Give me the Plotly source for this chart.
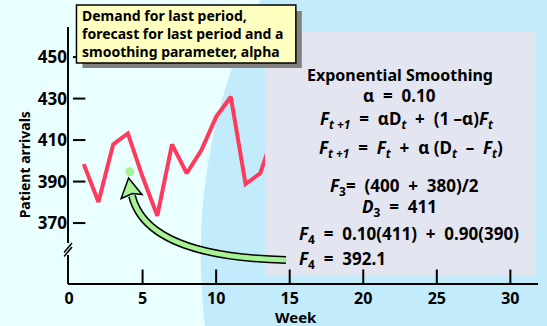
import plotly.graph_objects as go

# ---- data ----
weeks = [1, 2, 3, 4, 5, 6, 7, 8, 9, 10, 11, 12, 13, 14]
arrivals = [398.4, 380.1, 407.9, 413.2, 392.3, 373.5, 407.9, 394.0, 405.2, 421.2, 430.9, 388.8, 394.0, 415.0]
forecast_week = [4.13]
forecast_value = [394.7]
x_ticks = [0, 5, 10, 15, 20, 25, 30]
y_ticks = [370, 390, 410, 430, 450]

W, H = 547, 326
def px(x):
    return x / W
def py(y):
    return 1 - y / H

FONT = "Noto Sans"
BG = "rgb(234,255,255)"
BLUE = "rgb(194,236,252)"
GRAY = "rgb(227,230,241)"
RED = "rgb(255,58,92)"
GREEN = "rgb(168,242,150)"
NB = "\u00a0"

fig = go.Figure()
fig.add_trace(go.Scatter(x=weeks, y=arrivals, mode="lines",
                         line=dict(color=RED, width=4), hoverinfo="skip"))
fig.add_trace(go.Scatter(x=forecast_week, y=forecast_value, mode="markers",
                         marker=dict(color=GREEN, size=9), hoverinfo="skip"))

shapes = []
# big light-blue circle in the background
R = 568
cx, cy = 198 + R, 255
shapes.append(dict(type="circle", xref="paper", yref="paper",
                   x0=px(cx - R), x1=px(cx + R), y0=py(cy + R), y1=py(cy - R),
                   fillcolor=BLUE, line=dict(width=0), layer="below"))
# gray formula panel
shapes.append(dict(type="rect", xref="paper", yref="paper",
                   x0=px(263), x1=px(536), y0=py(275), y1=py(32),
                   fillcolor=GRAY, line=dict(width=0), layer="above"))
# y axis line with break
for (a, b) in [((64.5, 27), (64.5, 243)), ((64.5, 255), (64.5, 284))]:
    shapes.append(dict(type="line", xref="paper", yref="paper",
                       x0=px(a[0]), y0=py(a[1]), x1=px(b[0]), y1=py(b[1]),
                       line=dict(color="black", width=2), layer="above"))
for (a, b) in [((60.5, 252.5), (68.5, 243)), ((60.5, 256.5), (68.5, 247))]:
    shapes.append(dict(type="line", xref="paper", yref="paper",
                       x0=px(a[0]), y0=py(a[1]), x1=px(b[0]), y1=py(b[1]),
                       line=dict(color="black", width=1.5), layer="above"))
# y tick dashes
for v in y_ticks:
    shapes.append(dict(type="line", xref="paper", yref="y",
                       x0=px(69.5), x1=px(82), y0=v, y1=v,
                       line=dict(color="black", width=2), layer="above"))
# x ticks (upwards)
for v in x_ticks[1:]:
    shapes.append(dict(type="line", xref="x", yref="paper",
                       x0=v, x1=v, y0=py(283), y1=py(269.5),
                       line=dict(color="black", width=2), layer="above"))

# curved green arrow
def P(x, y):
    return f"{px(x):.5f},{py(y):.5f}"
curve = f"M {P(284,260)} C {P(200,258)} {P(140,240)} {P(129,196)}"
shapes.append(dict(type="path", xref="paper", yref="paper", path=curve,
                   line=dict(color="black", width=8), layer="above"))
shapes.append(dict(type="path", xref="paper", yref="paper", path=curve,
                   line=dict(color=GREEN, width=5), layer="above"))
head = f"M {P(125.5,178)} L {P(139,194.5)} L {P(129.5,193.5)} L {P(118,198.5)} Z"
shapes.append(dict(type="path", xref="paper", yref="paper", path=head,
                   fillcolor=GREEN, line=dict(color="black", width=1.5), layer="above"))

# yellow note box with shadow
shapes.append(dict(type="rect", xref="paper", yref="paper",
                   x0=px(79), x1=px(300), y0=py(68), y1=py(11),
                   fillcolor="rgb(128,128,128)", line=dict(width=0), layer="above"))
shapes.append(dict(type="rect", xref="paper", yref="paper",
                   x0=px(73), x1=px(294), y0=py(63), y1=py(5),
                   fillcolor="rgb(255,255,192)", line=dict(color="black", width=1.5),
                   layer="above"))

ann = []
def text(t, x, y, size, anchor="center", angle=0, align="center"):
    ann.append(dict(text=t, x=px(x), y=py(y), xref="paper", yref="paper",
                    xanchor=anchor, yanchor="middle", showarrow=False, textangle=angle,
                    align=align,
                    font=dict(family=FONT, size=size, color="black", weight="bold")))

text("Demand for last period,<br>forecast for last period and a<br>smoothing parameter, alpha",
     77, 34, 14, "left", align="left")

S = NB * 2
text("Exponential Smoothing", 399, 75, 16)
text(f"α{S}={S}0.10", 398, 95, 17)
text(f"<i>F</i><sub><i>t +1</i></sub>{S}={S}αD<sub><i>t</i></sub>{S}+{S}(1 –α)<i>F</i><sub><i>t</i></sub>", 406, 119, 17)
text(f"<i>F</i><sub><i>t +1</i></sub>{S}={S}<i>F</i><sub><i>t</i></sub>{S}+{S}α (D<sub><i>t</i></sub>{S}–{S}<i>F</i><sub><i>t</i></sub>)", 410, 148, 17)
text(f"<i>F</i><sub>3</sub>={S}(400{S}+{S}380)/2", 403, 186, 17)
text(f"<i>D</i><sub>3</sub>{S}={S}411", 398, 207, 17)
text(f"<i>F</i><sub>4</sub>{S}={S}0.10(411){S}+{S}0.90(390)", 295, 234, 17, "left")
text(f"<i>F</i><sub>4</sub>{S}={S}392.1", 295, 259, 17, "left")

text("Patient arrivals", 20.5, 165, 14, angle=-90)
text("Week", 294, 317, 15)

fig.update_layout(
    width=W, height=H, margin=dict(l=0, r=0, t=0, b=0),
    paper_bgcolor=BG, plot_bgcolor="rgba(0,0,0,0)", showlegend=False,
    shapes=shapes, annotations=ann,
    xaxis=dict(domain=[64.5 / W, 538 / W], range=[(64.5 - 65.5) / 14.82, (538 - 65.5) / 14.82],
               showgrid=False, zeroline=False, showline=True, linecolor="black", linewidth=2,
               ticks="", tickvals=x_ticks, ticklabelstandoff=0,
               tickfont=dict(family=FONT, size=16, color="black", weight="bold")),
    yaxis=dict(domain=[1 - 283 / H, 1 - 27 / H], range=[341.1, 464.5],
               showgrid=False, zeroline=False, showline=False, ticks="", tickvals=y_ticks,
               tickfont=dict(family=FONT, size=17, color="black", weight="bold")),
)
fig.write_html("out.html", config={"displayModeBar": False},
               post_script="document.body.style.margin='0px';")
